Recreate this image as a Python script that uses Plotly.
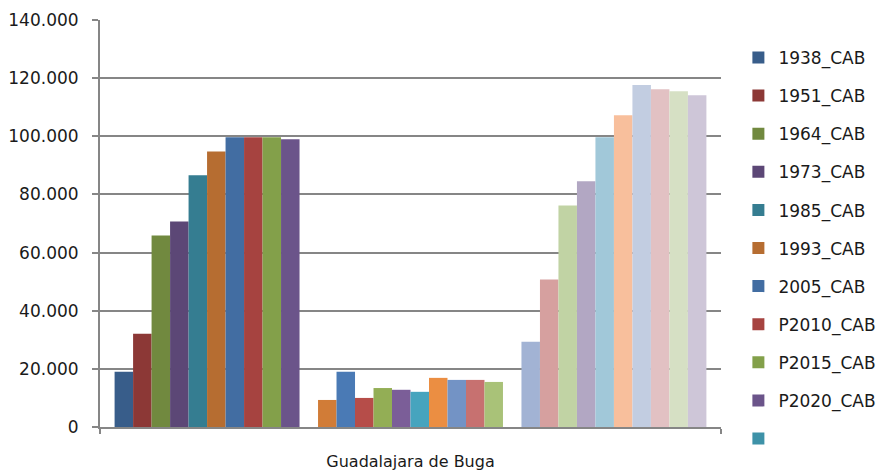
import plotly.graph_objects as go

category = ["Guadalajara de Buga"]

series_names = [
    "1938_CAB", "1951_CAB", "1964_CAB", "1973_CAB", "1985_CAB",
    "1993_CAB", "2005_CAB", "P2010_CAB", "P2015_CAB", "P2020_CAB",
    " ",
    "1938_RESTO", "1951_RESTO", "1964_RESTO", "1973_RESTO", "1985_RESTO",
    "1993_RESTO", "2005_RESTO", "P2010_RESTO", "P2015_RESTO", "P2020_RESTO",
    "  ",
    "1938_TOTAL", "1951_TOTAL", "1964_TOTAL", "1973_TOTAL", "1985_TOTAL",
    "1993_TOTAL", "2005_TOTAL", "P2010_TOTAL", "P2015_TOTAL", "P2020_TOTAL",
]

series_values = [
    19000, 32100, 65900, 70700, 86600, 94800, 99700, 99700, 99700, 99000,
    None,
    9300, 19000, 10000, 13400, 12800, 12100, 16900, 16200, 16200, 15500,
    None,
    29300, 50700, 76200, 84500, 99700, 107200, 117600, 116200, 115500, 114100,
]

series_colors = [
    "#385D8A", "#8C3836", "#71893F", "#5C4776", "#357D91",
    "#B66D31", "#426DA2", "#A64340", "#83A04A", "#6B548A",
    "#3E92A8",
    "#D17C37", "#4A7AB5", "#B64D49", "#93AE55", "#7B5E98",
    "#46A4BE", "#EB8E42", "#7393C5", "#C77170", "#A9C278",
    "#8E7BAF",
    "#A2B3D4", "#D6A09F", "#C1D3A4", "#B2A7C3", "#A1C8D9",
    "#F8BF9C", "#C2CDE1", "#E2C1C3", "#D6E0C4", "#CEC6D8",
]

legend_count = 11

y_ticks = [0, 20000, 40000, 60000, 80000, 100000, 120000, 140000]

fig = go.Figure()
for i, (name, val, col) in enumerate(zip(series_names, series_values, series_colors)):
    fig.add_trace(go.Bar(
        x=category, y=[val], name=name,
        marker=dict(color=col, line=dict(width=0)),
        showlegend=i < legend_count,
        legendgroup="g%d" % i,
    ))

grid_col = "#868686"
font_family = "DejaVu Sans"

fig.update_layout(
    width=878, height=470,
    margin=dict(l=100, r=157, t=20, b=43, autoexpand=False),
    barmode="group", bargap=0.047, bargroupgap=0,
    plot_bgcolor="white", paper_bgcolor="white",
    separators=",.",
    font=dict(family=font_family, size=16, color="#1a1a1a"),
    legend=dict(
        x=1.028, xanchor="left", y=0.951, yanchor="top",
        font=dict(family=font_family, size=17, color="#1a1a1a"),
        tracegroupgap=13, bgcolor="rgba(0,0,0,0)",
        maxheight=1,
    ),
    showlegend=True,
)

fig.update_yaxes(
    range=[0, 140000], tickvals=y_ticks, tickformat=",d",
    showgrid=True, gridcolor=grid_col, gridwidth=2,
    showline=True, linecolor=grid_col, linewidth=2,
    ticks="outside", ticklen=6, tickwidth=2, tickcolor=grid_col,
    ticklabelstandoff=10, automargin=False,
    tickfont=dict(family=font_family, size=17, color="#1a1a1a"),
    zeroline=False,
)
fig.update_xaxes(
    showline=True, linecolor=grid_col, linewidth=2,
    ticks="outside", tickson="boundaries", ticklen=5, tickwidth=2, tickcolor=grid_col,
    ticklabelstandoff=19, automargin=False,
    tickfont=dict(family=font_family, size=16, color="#1a1a1a"),
)

fig.write_html(
    "out.html",
    config={"displayModeBar": False},
    post_script="document.body.style.margin='0';document.body.style.overflow='hidden';",
)
